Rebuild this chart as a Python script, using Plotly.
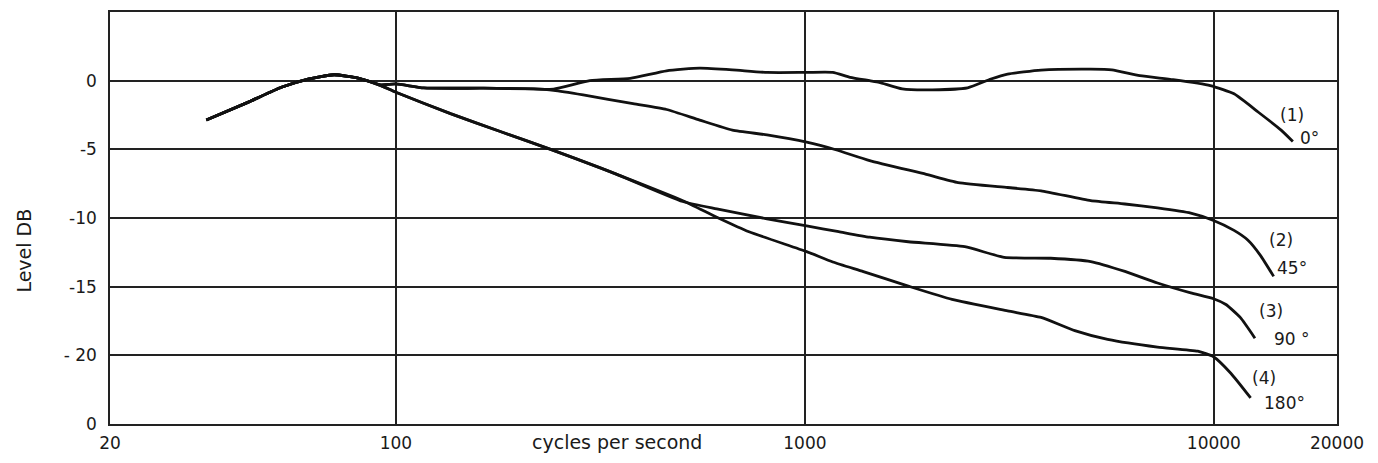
import math
import plotly.graph_objects as go

# Frequencies (Hz) and levels (dB)
freq_1 = [34.4, 43.6, 52.5, 61, 70.6, 80.8, 91.9, 100, 117, 164, 217, 243, 298, 374, 459, 553, 665, 808,
          1010, 1170, 1290, 1440, 1520, 1730, 2050, 2500, 2850, 3130, 3780, 5000, 5630, 6590, 7950, 9800,
          11200, 12850, 14600, 15600]
level_1 = [-2.87, -1.56, -0.48, 0.12, 0.43, 0.19, -0.3, -0.24, -0.53, -0.55, -0.6, -0.62, 0.0, 0.17, 0.72,
           0.91, 0.79, 0.6, 0.6, 0.6, 0.24, 0.0, -0.12, -0.6, -0.67, -0.52, 0.12, 0.48, 0.77, 0.84, 0.79,
           0.36, 0.07, -0.36, -0.96, -2.3, -3.6, -4.43]

freq_2 = [34.4, 43.6, 52.5, 61, 70.6, 80.8, 91.9, 100, 117, 164, 217, 243, 287, 380, 459, 553, 665, 808,
          1010, 1190, 1440, 1980, 2370, 3130, 3780, 5000, 6060, 7280, 8780, 9980, 11200, 12100, 12980, 14000]
level_2 = [-2.87, -1.56, -0.48, 0.12, 0.43, 0.19, -0.3, -0.24, -0.53, -0.55, -0.6, -0.7, -1.03, -1.68,
           -2.1, -2.87, -3.6, -3.95, -4.48, -5.03, -5.82, -6.82, -7.42, -7.78, -8.02, -8.74, -8.98, -9.27,
           -9.65, -10.18, -10.9, -11.6, -12.7, -14.25]

freq_3 = [34.4, 43.6, 52.5, 61, 70.6, 80.8, 91.9, 100, 136, 180, 239, 316, 347, 503, 609, 808, 1010, 1210,
          1440, 1790, 2460, 3070, 3990, 5000, 6060, 7280, 8780, 9980, 10700, 11600, 12600]
level_3 = [-2.87, -1.56, -0.48, 0.12, 0.43, 0.19, -0.36, -0.84, -2.4, -3.7, -5.0, -6.35, -6.82, -8.8,
           -9.34, -10.06, -10.58, -11.0, -11.4, -11.73, -12.09, -12.86, -12.93, -13.17, -13.89, -14.73,
           -15.45, -15.88, -16.3, -17.24, -18.75]

freq_4 = [34.4, 43.6, 52.5, 61, 70.6, 80.8, 91.9, 100, 136, 180, 239, 316, 347, 503, 609, 730, 1010, 1170,
          1390, 1790, 2290, 3130, 3780, 4570, 5500, 7280, 9130, 9980, 11000, 12300]
level_4 = [-2.87, -1.56, -0.48, 0.12, 0.43, 0.19, -0.36, -0.84, -2.4, -3.7, -5.0, -6.35, -6.82, -8.74,
           -9.94, -11.0, -12.45, -13.2, -13.9, -14.96, -15.93, -16.76, -17.24, -18.2, -18.84, -19.4, -19.7,
           -20.1, -21.3, -23.1]

series = [(freq_1, level_1), (freq_2, level_2), (freq_3, level_3), (freq_4, level_4)]

x_tickvals = [20, 100, 1000, 10000, 20000]
x_ticktext = ["20", "100", "1000", "10000", "20000"]
y_tickvals = [0, -5, -10, -15, -20, -25]
y_ticktext = ["0", "-5", "-10", "-15", "- 20", "0"]

curve_labels = ["(1)", "0°", "(2)", "45°", "(3)", "90 °", "(4)", "180°"]
label_freq = [15560, 17150, 14580, 15560, 13800, 15560, 13290, 14870]
label_level = [-2.5, -4.2, -11.6, -13.65, -16.76, -18.8, -21.67, -23.47]

FONT = "DejaVu Sans, sans-serif"
INK = "#1a1a1a"

fig = go.Figure()
for fx, fy in series:
    fig.add_trace(go.Scatter(x=fx, y=fy, mode="lines",
                             line=dict(color="#111", width=2.8, shape="spline", smoothing=0.5),
                             showlegend=False, hoverinfo="skip"))

for txt, lx, ly in zip(curve_labels, label_freq, label_level):
    fig.add_annotation(x=math.log10(lx), y=ly, xref="x", yref="y", text=txt, showarrow=False,
                       font=dict(family=FONT, size=17, color=INK))

fig.add_annotation(x=math.log10(347), y=-0.043, xref="x", yref="paper", text="cycles per second",
                   showarrow=False, xanchor="center", yanchor="middle",
                   font=dict(family=FONT, size=19, color=INK))
fig.add_annotation(x=-0.081, y=0.42, xref="paper", yref="paper", text="Level DB", textangle=-90,
                   showarrow=False, font=dict(family=FONT, size=19, color=INK))

fig.update_layout(
    width=1378, height=463,
    margin=dict(l=110, r=41, t=10, b=35),
    paper_bgcolor="white", plot_bgcolor="white",
    font=dict(family=FONT, size=17, color=INK),
    xaxis=dict(type="log", range=[math.log10(20), math.log10(20000)], tickvals=x_tickvals,
               ticktext=x_ticktext, showgrid=True, gridcolor="#222", gridwidth=1.5, showline=True,
               linecolor="#222", linewidth=1.5, mirror=True, zeroline=False, ticks="",
               ticklabelstandoff=3),
    yaxis=dict(range=[-25, 5], tickvals=y_tickvals, ticktext=y_ticktext,
               showgrid=True, gridcolor="#222", gridwidth=1.5, showline=True, linecolor="#222",
               linewidth=1.5, mirror=True, zeroline=False, ticks="", ticklabelstandoff=8),
)

fig.write_html("out.html")
